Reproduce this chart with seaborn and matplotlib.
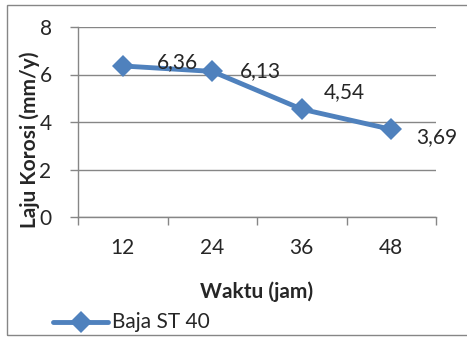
import matplotlib
matplotlib.use("Agg")
import matplotlib.pyplot as plt
import seaborn as sns
import pandas as pd
from matplotlib.patches import Rectangle

waktu = ["12", "24", "36", "48"]
laju = [6.36, 6.13, 4.54, 3.69]
series_name = "Baja ST 40"

sns.set_theme(style="white")
plt.rcParams["font.family"] = ["Lato", "DejaVu Sans"]

df = pd.DataFrame({"pos": range(len(waktu)), "laju": laju, "seri": series_name})

W, H = 467, 338
fig = plt.figure(figsize=(W / 100, H / 100), dpi=100)
ax = fig.add_axes([78 / W, 1 - 217 / H, (436 - 78) / W, (217 - 27) / H])

blue = "#4F81BD"
grid = "#868686"
fs = 15

sns.lineplot(data=df, x="pos", y="laju", hue="seri", palette=[blue], marker="D",
             markersize=11, linewidth=3.5, markeredgewidth=0, ax=ax, legend=False)

ax.set_xlim(-0.5, len(waktu) - 0.5)
ax.set_ylim(0, 8)
ax.set_yticks([0, 2, 4, 6, 8])
ax.set_yticklabels(["0", "2", "4", "6", "8"], fontsize=fs)
ax.yaxis.grid(True, color=grid, linewidth=1)
ax.set_axisbelow(True)

# category boundaries carry the ticks, labels sit at category centres
ax.set_xticks([i - 0.5 for i in range(len(waktu) + 1)])
ax.set_xticklabels([])
ax.set_xticks(range(len(waktu)), minor=True)
ax.set_xticklabels(waktu, minor=True, fontsize=fs)
ax.tick_params(axis="x", which="major", length=6, width=1, color=grid, direction="out")
ax.tick_params(axis="x", which="minor", length=0, pad=15)
ax.tick_params(axis="y", length=6, width=1, color=grid, direction="out", pad=13)
ax.xaxis.set_ticks_position("bottom")
ax.yaxis.set_ticks_position("left")

for side in ["top", "right"]:
    ax.spines[side].set_visible(False)
for side in ["left", "bottom"]:
    ax.spines[side].set_color(grid)
    ax.spines[side].set_linewidth(1)

ax.set_xlabel("")
ax.set_ylabel("")
fig.text(257 / W, 1 - 292 / H, "Waktu (jam)", fontsize=fs, fontweight="bold",
         ha="center", va="center")
fig.text(30 / W, 1 - 140 / H, "Laju Korosi (mm/y)", fontsize=fs, fontweight="bold",
         ha="center", va="center", rotation=90)

# value labels beside each point
offsets = [(55, 4), (48, 0), (43, 17), (45, -8)]
for i, (v, off) in enumerate(zip(laju, offsets)):
    ax.annotate(f"{v:.2f}".replace(".", ","), (i, v), xytext=off,
                textcoords="offset pixels", ha="center", va="center", fontsize=fs)

# legend drawn below the axis title
ly = 1 - 322 / H
fig.lines.append(plt.Line2D([53 / W, 108 / W], [ly, ly], transform=fig.transFigure,
                            color=blue, linewidth=3.5))
fig.lines.append(plt.Line2D([80.5 / W], [ly], transform=fig.transFigure, color=blue,
                            marker="D", markersize=11, markeredgewidth=0))
fig.text(112 / W, ly, series_name, fontsize=fs, va="center", ha="left")

# chart frame, its right side running past the canvas edge
fig.patches.append(Rectangle((7 / W, 1 - 335 / H), 470 / W, 330 / H,
                             transform=fig.transFigure, fill=False,
                             edgecolor=grid, linewidth=1))

fig.savefig("out.png", dpi=100)
